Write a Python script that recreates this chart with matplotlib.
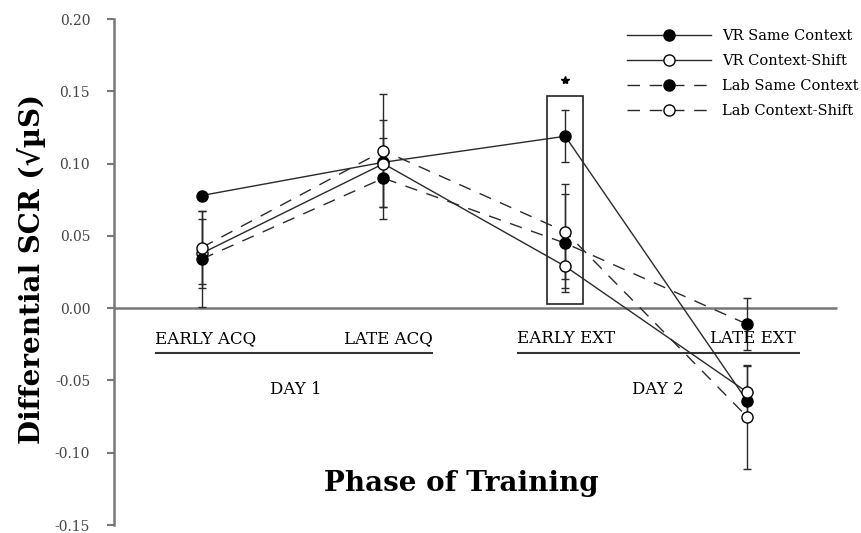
import numpy as np
import matplotlib.pyplot as plt
from matplotlib.patches import Rectangle
from matplotlib.lines import Line2D

# phases of training (x positions 0..3)
phases = ['EARLY ACQ', 'LATE ACQ', 'EARLY EXT', 'LATE EXT']
days = ['DAY 1', 'DAY 2']

# group means and error bars (sqrt uS)
vr_same = [0.078, 0.101, 0.119, -0.064]
vr_same_err = [0.0, 0.0, 0.018, 0.0]
vr_shift = [0.038, 0.100, 0.029, -0.058]
vr_shift_err = [0.024, 0.030, 0.015, 0.018]
lab_same = [0.034, 0.090, 0.045, -0.011]
lab_same_err = [0.033, 0.028, 0.034, 0.018]
lab_shift = [0.042, 0.109, 0.053, -0.075]
lab_shift_err = [0.025, 0.039, 0.033, 0.036]

plt.rcParams['font.family'] = ['DejaVu Serif']

fig = plt.figure(figsize=(8.62, 5.33), dpi=100)
ax = fig.add_axes([0.132, 0.015, 0.868, 0.949])

x = np.arange(len(phases))
dash = (0, (9, 7))
lc = '#2a2a2a'
series = [
    (vr_same, vr_same_err, '-', 'black', 'VR Same Context'),
    (vr_shift, vr_shift_err, '-', 'white', 'VR Context-Shift'),
    (lab_same, lab_same_err, dash, 'black', 'Lab Same Context'),
    (lab_shift, lab_shift_err, dash, 'white', 'Lab Context-Shift'),
]
handles = []
for vals, err, ls, face, lab in series:
    ax.errorbar(x, vals, yerr=err, color=lc, ls=ls, lw=1.0, marker='o', ms=8,
                mfc=face, mec='black', mew=1.0, ecolor=lc, elinewidth=1.0,
                capsize=3, capthick=1.0, zorder=3)
    handles.append(Line2D([], [], color=lc, ls=ls, lw=1.0, marker='o', ms=8,
                          mfc=face, mec='black', label=lab))

# zero line and significance box
ax.hlines(0, -0.6, 3.495, color='#777777', lw=1.8, zorder=1)
ax.add_patch(Rectangle((1.9, 0.003), 0.197, 0.144, fill=False, ec='#222222', lw=1.2))
ax.plot(2, 0.158, marker='*', ms=6, color='black', ls='none')

# phase labels with day underlines
fs = 12
ax.text(-0.259, -0.021, phases[0], ha='left', va='center', fontsize=fs)
ax.text(1.271, -0.021, phases[1], ha='right', va='center', fontsize=fs)
ax.text(1.734, -0.021, phases[2], ha='left', va='center', fontsize=fs)
ax.text(3.27, -0.021, phases[3], ha='right', va='center', fontsize=fs)
ax.hlines(-0.031, -0.259, 1.271, color='#333333', lw=1.5)
ax.hlines(-0.031, 1.734, 3.29, color='#333333', lw=1.5)
ax.text(0.517, -0.056, days[0], ha='center', va='center', fontsize=fs)
ax.text(2.51, -0.056, days[1], ha='center', va='center', fontsize=fs)
ax.text(1.43, -0.121, 'Phase of Training', ha='center', va='center',
        fontsize=20, fontweight='bold')

ax.set_xlim(-0.484, 3.633)
ax.set_ylim(-0.15, 0.20)
ax.set_yticks(np.arange(-0.15, 0.201, 0.05))
ax.set_yticklabels(['%.2f' % v for v in np.arange(-0.15, 0.201, 0.05)])
ax.set_xticks([])
for s in ['top', 'right', 'bottom']:
    ax.spines[s].set_visible(False)
ax.spines['left'].set_color('#777777')
ax.spines['left'].set_linewidth(1.8)
ax.tick_params(axis='y', direction='out', length=5, width=1.5, color='#777777',
               labelsize=10, labelcolor='#444444', pad=12)
ax.patch.set_alpha(0)

fig.text(0.036, 0.495, 'Differential SCR (\u221a\u00b5S)', rotation=90, ha='center',
         va='center', fontsize=20, fontweight='bold')

leg = fig.legend(handles=handles, loc='upper left', bbox_to_anchor=(0.727, 0.945),
                 frameon=False, fontsize=10.5, handlelength=5.8, handletextpad=0.75,
                 labelspacing=0.75, borderaxespad=0, borderpad=0)

fig.savefig('out.png', dpi=100)
